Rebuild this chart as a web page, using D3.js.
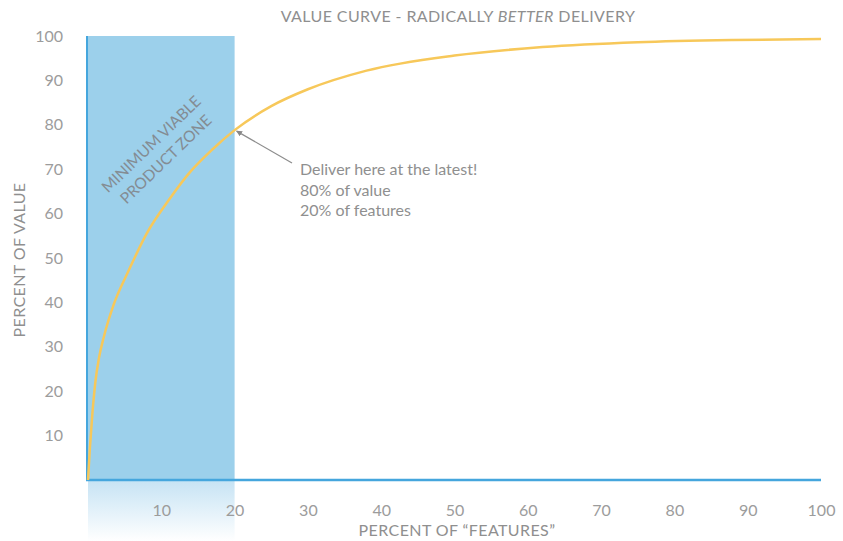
<!DOCTYPE html>
<meta charset="utf-8">
<style>
body { margin: 0; background: #fff; font-family: 'Lato', sans-serif; }
.tick text { fill: #9c9c9c; font-size: 16px; font-family: 'Lato', sans-serif; }
.lbl { fill: #8f8f8f; font-size: 16px; font-family: 'Lato', sans-serif; }
</style>
<body>
<svg width="843" height="541"></svg>
<script src="https://d3js.org/d3.v7.min.js"></script>
<script>
// value curve
var featurePct = [0, 0.25, 0.6, 1, 1.5, 2.2, 3.5, 5.5, 8, 11, 14, 17, 20, 25, 30, 38, 50, 62, 75, 88, 100];
var valuePct   = [0, 7, 15, 22, 27.5, 32.5, 39.5, 47, 55.5, 63, 69.5, 74.5, 78.8, 84.2, 88, 92.2, 95.6, 97.5, 98.6, 99.1, 99.3];
var xTicks = [10, 20, 30, 40, 50, 60, 70, 80, 90, 100];
var yTicks = [10, 20, 30, 40, 50, 60, 70, 80, 90, 100];
var mvpZone = [0, 20];
var noteLines = ["Deliver here at the latest!", "80% of value", "20% of features"];

var svg = d3.select("svg");
var x = d3.scaleLinear().domain([0, 100]).range([88, 821]);
var y = d3.scaleLinear().domain([0, 100]).range([480, 36]);

var defs = svg.append("defs");
var grad = defs.append("linearGradient").attr("id", "fade")
  .attr("x1", 0).attr("y1", 0).attr("x2", 0).attr("y2", 1);
grad.append("stop").attr("offset", "0%").attr("stop-color", "#c6e3f4");
grad.append("stop").attr("offset", "100%").attr("stop-color", "#ffffff");

// MVP zone
svg.append("rect")
  .attr("x", x(mvpZone[0])).attr("y", y(100))
  .attr("width", x(mvpZone[1]) - x(mvpZone[0]))
  .attr("height", y(0) - y(100))
  .attr("fill", "#9cd0eb");
svg.append("rect")
  .attr("x", x(mvpZone[0])).attr("y", y(0))
  .attr("width", x(mvpZone[1]) - x(mvpZone[0]))
  .attr("height", 61)
  .attr("fill", "url(#fade)");

var zl = svg.append("text").attr("class", "lbl")
  .attr("transform", "translate(155,148) rotate(-44)")
  .attr("text-anchor", "middle")
  .style("font-size", "15.5px").style("fill", "#848c93");
zl.append("tspan").attr("x", 0).attr("y", 0).text("MINIMUM VIABLE");
zl.append("tspan").attr("x", 0).attr("y", 21).text("PRODUCT ZONE");

// axes
var xAxis = d3.axisBottom(x).tickValues(xTicks).tickSize(0).tickPadding(25);
svg.append("g").attr("transform", "translate(0," + y(0) + ")").call(xAxis)
  .call(function(g) { g.select(".domain").remove(); });
var yAxis = d3.axisLeft(y).tickValues(yTicks).tickSize(0).tickPadding(25);
svg.append("g").attr("transform", "translate(" + x(0) + ",0)").call(yAxis)
  .call(function(g) { g.select(".domain").remove(); });

svg.append("line")
  .attr("x1", x(0) - 1).attr("x2", x(0) - 1).attr("y1", y(100)).attr("y2", y(0))
  .attr("stroke", "#45a6dd").attr("stroke-width", 2);
svg.append("line")
  .attr("x1", x(0) - 2).attr("x2", x(100)).attr("y1", y(0)).attr("y2", y(0))
  .attr("stroke", "#45a6dd").attr("stroke-width", 2.5);

// curve
var pts = featurePct.map(function(d, i) { return [d, valuePct[i]]; });
var line = d3.line()
  .x(function(d) { return x(d[0]); })
  .y(function(d) { return y(d[1]); })
  .curve(d3.curveMonotoneX);
svg.append("path").datum(pts)
  .attr("d", line)
  .attr("fill", "none")
  .attr("stroke", "#f7c85a")
  .attr("stroke-width", 2.5);

// annotation
svg.append("defs").append("marker").attr("id", "arr")
  .attr("viewBox", "0 0 10 10").attr("refX", 9).attr("refY", 5)
  .attr("markerWidth", 5).attr("markerHeight", 5).attr("orient", "auto")
  .append("path").attr("d", "M0,0L10,5L0,10z").attr("fill", "#888");
svg.append("line")
  .attr("x1", 292).attr("y1", 163).attr("x2", x(20) + 2).attr("y2", y(78.8) + 1)
  .attr("stroke", "#8c8c8c").attr("stroke-width", 1.2)
  .attr("marker-end", "url(#arr)");
svg.append("g").selectAll("text").data(noteLines).join("text")
  .attr("class", "lbl")
  .attr("x", 300).attr("y", function(d, i) { return 175 + i * 20.5; })
  .text(function(d) { return d; });

// titles
var t = svg.append("text").attr("class", "lbl")
  .attr("x", 458).attr("y", 22).attr("text-anchor", "middle")
  .style("letter-spacing", "0.4px");
t.append("tspan").text("VALUE CURVE - RADICALLY ");
t.append("tspan").style("font-style", "italic").text("BETTER");
t.append("tspan").text(" DELIVERY");

svg.append("text").attr("class", "lbl")
  .attr("x", 457).attr("y", 536).attr("text-anchor", "middle")
  .style("letter-spacing", "0.4px")
  .text("PERCENT OF \u201CFEATURES\u201D");

svg.append("text").attr("class", "lbl")
  .attr("transform", "translate(25,260) rotate(-90)")
  .attr("text-anchor", "middle")
  .style("letter-spacing", "0.4px")
  .text("PERCENT OF VALUE");
</script>
</body>
